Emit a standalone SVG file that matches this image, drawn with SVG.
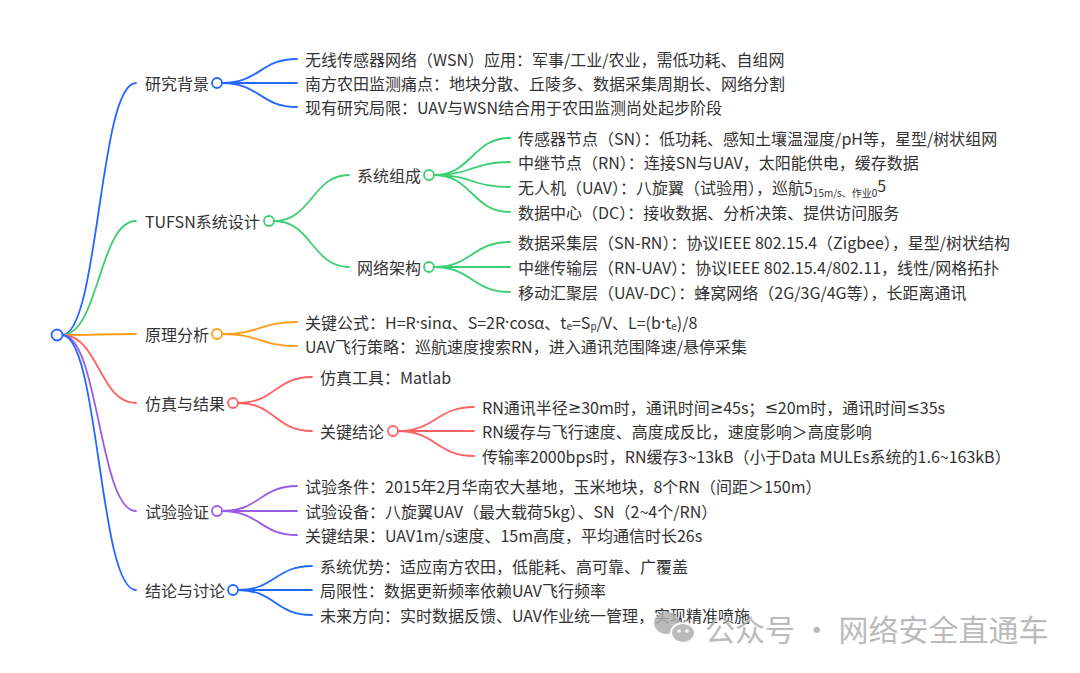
<svg xmlns="http://www.w3.org/2000/svg" width="1080" height="673" viewBox="0 0 1080 673">
<style>
text{font-family:"Noto Sans CJK SC","Microsoft YaHei",sans-serif;font-size:16px;fill:#333;dominant-baseline:central}
.lat{font-family:"Noto Sans","DejaVu Sans",sans-serif}
.l{fill:none;stroke-width:1.8;stroke-linecap:round}
.c{fill:#fff;stroke-width:1.8}
.blue{stroke:#2468ff}.green{stroke:#3ccf72}.orange{stroke:#ff9d1c}.red{stroke:#ff6262}.purple{stroke:#9b5ce6}
.sub{font-size:10px}
.wm{font-size:30px;fill:#b0b0b0}
</style>
<rect width="1080" height="673" fill="#fff"/>
<g id="connectors">
<path class="l blue" d="M62 335 C99 335,99 83,136 83"/>
<path class="l green" d="M62 335 C99 335,99 221,136 221"/>
<path class="l orange" d="M62 335 C99 335,99 334,136 334"/>
<path class="l red" d="M62 335 C99 335,99 403,136 403"/>
<path class="l purple" d="M62 335 C99 335,99 511,136 511"/>
<path class="l blue" d="M62 335 C99 335,99 590,136 590"/>
<path class="l blue" d="M222 83 C260 83,260 59,297 59"/>
<path class="l blue" d="M222 83 C260 83,260 83,297 83"/>
<path class="l blue" d="M222 83 C260 83,260 107,297 107"/>
<path class="l green" d="M274 221 C312 221,312 175,349 175"/>
<path class="l green" d="M274 221 C312 221,312 267,349 267"/>
<path class="l green" d="M434 175 C472 175,472 138,510 138"/>
<path class="l green" d="M434 175 C472 175,472 162,510 162"/>
<path class="l green" d="M434 175 C472 175,472 187,510 187"/>
<path class="l green" d="M434 175 C472 175,472 212,510 212"/>
<path class="l green" d="M434 267 C472 267,472 242,510 242"/>
<path class="l green" d="M434 267 C472 267,472 267,510 267"/>
<path class="l green" d="M434 267 C472 267,472 292,510 292"/>
<path class="l orange" d="M222 334 C260 334,260 322,297 322"/>
<path class="l orange" d="M222 334 C260 334,260 346,297 346"/>
<path class="l red" d="M238 403 C275 403,275 377,312 377"/>
<path class="l red" d="M238 403 C275 403,275 431,312 431"/>
<path class="l red" d="M398 431 C436 431,436 407,474 407"/>
<path class="l red" d="M398 431 C436 431,436 431,474 431"/>
<path class="l red" d="M398 431 C436 431,436 456,474 456"/>
<path class="l purple" d="M222 511 C260 511,260 486,297 486"/>
<path class="l purple" d="M222 511 C260 511,260 511,297 511"/>
<path class="l purple" d="M222 511 C260 511,260 535,297 535"/>
<path class="l blue" d="M238 590 C275 590,275 566,312 566"/>
<path class="l blue" d="M238 590 C275 590,275 590,312 590"/>
<path class="l blue" d="M238 590 C275 590,275 615,312 615"/>
</g>
<g id="root"><circle class="c blue" cx="57" cy="335" r="5.5"/></g>
<g id="n1"><text x="145" y="83">研究背景</text><circle class="c blue" cx="217" cy="83" r="5"/></g>
<g id="n1a"><text x="305" y="59">无线传感器网络（WSN）应用：军事/工业/农业，需低功耗、自组网</text></g>
<g id="n1b"><text x="305" y="83">南方农田监测痛点：地块分散、丘陵多、数据采集周期长、网络分割</text></g>
<g id="n1c"><text x="305" y="107">现有研究局限：UAV与WSN结合用于农田监测尚处起步阶段</text></g>
<g id="n2"><text x="145" y="221">TUFSN系统设计</text><circle class="c green" cx="269" cy="221" r="5"/></g>
<g id="n2a"><text x="357" y="175">系统组成</text><circle class="c green" cx="429" cy="175" r="5"/></g>
<g id="n2a1"><text x="518" y="138">传感器节点（SN）：低功耗、感知土壤温湿度/pH等，星型/树状组网</text></g>
<g id="n2a2"><text x="518" y="162">中继节点（RN）：连接SN与UAV，太阳能供电，缓存数据</text></g>
<g id="n2a3"><text x="518" y="187">无人机（UAV）：八旋翼（试验用），巡航5<tspan class="sub" dy="5">15m/s、作业0</tspan><tspan dy="-7">5</tspan></text></g>
<g id="n2a4"><text x="518" y="212">数据中心（DC）：接收数据、分析决策、提供访问服务</text></g>
<g id="n2b"><text x="357" y="267">网络架构</text><circle class="c green" cx="429" cy="267" r="5"/></g>
<g id="n2b1"><text x="518" y="242">数据采集层（SN-RN）：协议IEEE 802.15.4（Zigbee），星型/树状结构</text></g>
<g id="n2b2"><text x="518" y="267">中继传输层（RN-UAV）：协议IEEE 802.15.4/802.11，线性/网格拓扑</text></g>
<g id="n2b3"><text x="518" y="292">移动汇聚层（UAV-DC）：蜂窝网络（2G/3G/4G等），长距离通讯</text></g>
<g id="n3"><text x="145" y="334">原理分析</text><circle class="c orange" cx="217" cy="334" r="5"/></g>
<g id="n3a"><text x="305" y="322">关键公式：H=R<tspan class="lat">·</tspan>sinα、S=2R<tspan class="lat">·</tspan>cosα、t<tspan class="sub" dy="3">e</tspan><tspan dy="-3">=S</tspan><tspan class="sub" dy="3">p</tspan><tspan dy="-3">/V、L=(b</tspan><tspan class="lat">·</tspan>t<tspan class="sub" dy="3">e</tspan><tspan dy="-3">)/8</tspan></text></g>
<g id="n3b"><text x="305" y="346">UAV飞行策略：巡航速度搜索RN，进入通讯范围降速/悬停采集</text></g>
<g id="n4"><text x="145" y="403">仿真与结果</text><circle class="c red" cx="233" cy="403" r="5"/></g>
<g id="n4a"><text x="320" y="377">仿真工具：Matlab</text></g>
<g id="n4b"><text x="320" y="431">关键结论</text><circle class="c red" cx="393" cy="431" r="5"/></g>
<g id="n4b1"><text x="482" y="407">RN通讯半径<tspan class="lat">≥</tspan>30m时，通讯时间<tspan class="lat">≥</tspan>45s；<tspan class="lat">≤</tspan>20m时，通讯时间<tspan class="lat">≤</tspan>35s</text></g>
<g id="n4b2"><text x="482" y="431">RN缓存与飞行速度、高度成反比，速度影响＞高度影响</text></g>
<g id="n4b3"><text x="482" y="456">传输率2000bps时，RN缓存3~13kB（小于Data MULEs系统的1.6~163kB）</text></g>
<g id="n5"><text x="145" y="511">试验验证</text><circle class="c purple" cx="217" cy="511" r="5"/></g>
<g id="n5a"><text x="305" y="486">试验条件：2015年2月华南农大基地，玉米地块，8个RN（间距＞150m）</text></g>
<g id="n5b"><text x="305" y="511">试验设备：八旋翼UAV（最大载荷5kg）、SN（2~4个/RN）</text></g>
<g id="n5c"><text x="305" y="535">关键结果：UAV1m/s速度、15m高度，平均通信时长26s</text></g>
<g id="n6"><text x="145" y="590">结论与讨论</text><circle class="c blue" cx="233" cy="590" r="5"/></g>
<g id="n6a"><text x="320" y="566">系统优势：适应南方农田，低能耗、高可靠、广覆盖</text></g>
<g id="n6b"><text x="320" y="590">局限性：数据更新频率依赖UAV飞行频率</text></g>
<g id="n6c"><text x="320" y="615">未来方向：实时数据反馈、UAV作业统一管理，实现精准喷施</text></g>
<g id="watermark" opacity="0.85">
<ellipse cx="667" cy="623" rx="13" ry="11" fill="#b0b0b0"/>
<ellipse cx="683" cy="633" rx="12" ry="10" fill="#b0b0b0" stroke="#fff" stroke-width="2"/>
<circle cx="679" cy="631" r="1.8" fill="#fff"/><circle cx="687" cy="631" r="1.8" fill="#fff"/>
<text class="wm" x="705" y="628">公众号 · 网络安全直通车</text>
</g>
</svg>
